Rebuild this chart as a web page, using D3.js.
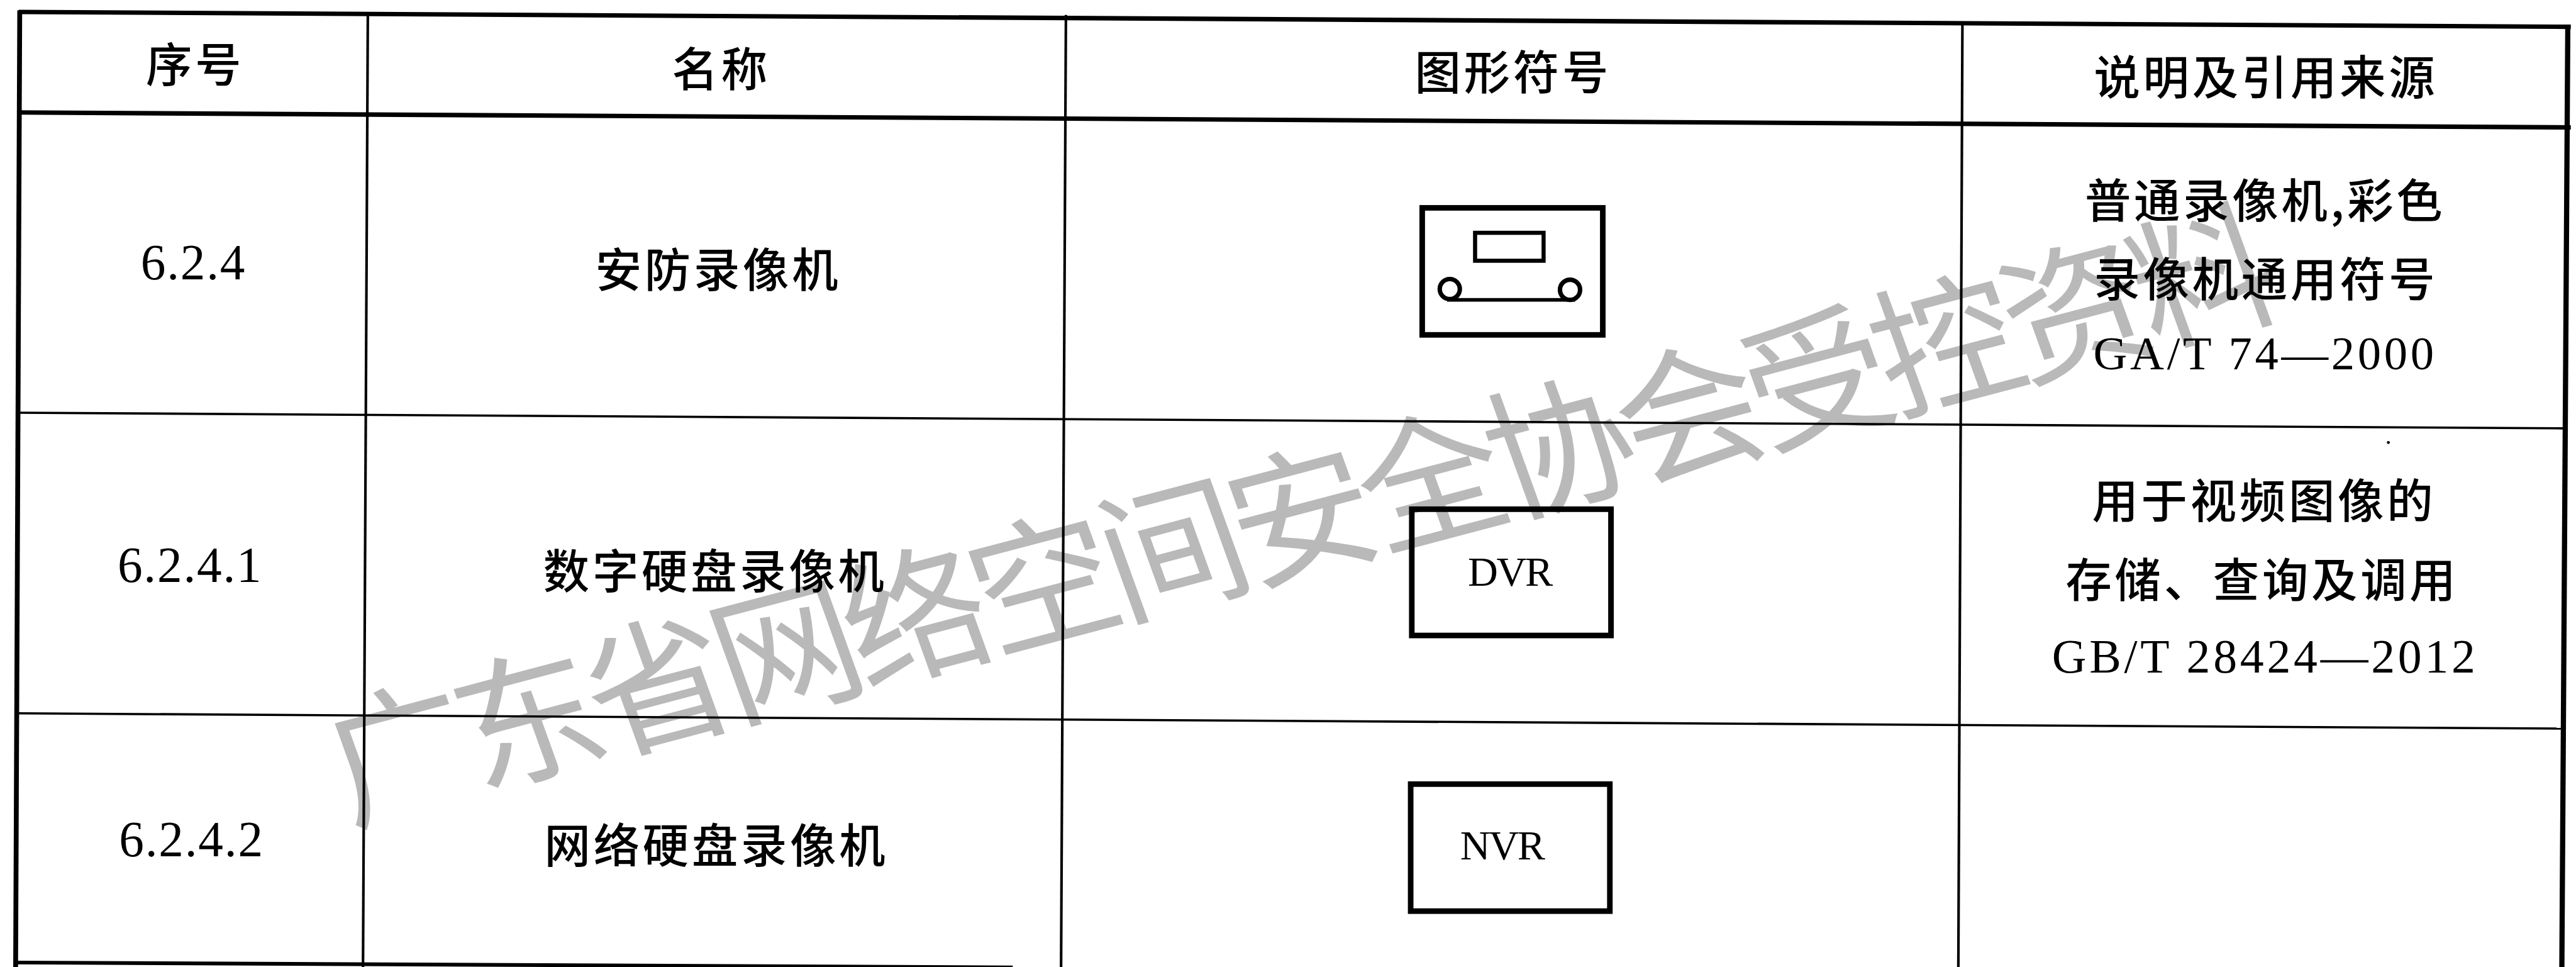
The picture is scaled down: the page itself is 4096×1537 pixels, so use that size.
<!DOCTYPE html>
<html>
<head>
<meta charset="utf-8">
<script src="https://cdnjs.cloudflare.com/ajax/libs/d3/7.8.5/d3.min.js"></script>
<style>
html, body { margin: 0; padding: 0; background: #fff; overflow: hidden; }
svg { display: block; }
</style>
</head>
<body>
<div id="chart"></div>
<script>
// TABLE CONTENT
let HEADERS = ["序号", "名称", "图形符号", "说明及引用来源"]
let CODES = ["6.2.4", "6.2.4.1", "6.2.4.2"]
let NAMES = ["安防录像机", "数字硬盘录像机", "网络硬盘录像机"]
let BOX_LABELS = ["DVR", "NVR"]
let NOTES = ["普通录像机,彩色", "录像机通用符号", "GA/T 74—2000", "用于视频图像的", "存储、查询及调用", "GB/T 28424—2012"]
let WATERMARK = "广东省网络空间安全协会受控资料"

// LAYOUT, in pixels of the full size scan
let FULL_W = 6919, FULL_H = 2596
let H_LINES = [
    [50, 32, 6905, 72, 12], [50, 302, 6905, 342, 12], [50, 1108, 6884, 1150, 6],
    [50, 1915, 6884, 1956, 6], [40, 2584, 2720, 2597, 10]
]
let V_LINES = [
    [53, 28, 42, 2596, 13], [988, 35, 975, 2596, 7], [2863, 40, 2850, 2596, 7],
    [5271, 60, 5260, 2596, 7], [6897, 68, 6881, 2596, 14]
]
let HEADER_POS = [[520, 165], [1933, 178], [4060, 185], [6082, 200]]
let CODE_POS = [[518, 750], [509, 1563], [513, 2298]]
let NAME_POS = [[1925, 716], [1917, 1525], [1920, 2261]]
let NOTE_POS = [[6080, 530], [6082, 742], [6080, 992], [6077, 1336], [6072, 1548], [6080, 1806]]
let BOX_POS = [[3792, 1367, 4327, 1706, 4057, 1572], [3789, 2105, 4324, 2446, 4036, 2307]]

let width = 4096, height = 1537

// same scale both ways, the window keeps the proportions of the scan
let x = d3.scaleLinear().domain([0, FULL_W]).range([0, width])
let y = d3.scaleLinear().domain([0, FULL_H]).range([0, height])
let k = width / FULL_W

let svg = d3.select("#chart")
    .append("svg")
    .attr("width", width)
    .attr("height", height)

svg.append("rect").attr("width", width).attr("height", height).attr("fill", "#fff")

let CJK = "'Noto Sans CJK SC', sans-serif"
let SERIF = "'Liberation Serif', serif"

// watermark goes under everything else, its uprights lean a bit more than its bars
svg.append("text")
    .attr("transform", "translate(" + x(3475) + "," + y(1362) + ") rotate(-14.8) skewX(5)")
    .attr("text-anchor", "middle")
    .attr("dominant-baseline", "central")
    .style("font-family", CJK)
    .style("font-size", (385 * k) + "px")
    .style("letter-spacing", (-27 * k) + "px")
    .style("fill", "#b9b9b9")
    .text(WATERMARK)

let line = d3.line()
    .x(function (d) { return x(d[0]) })
    .y(function (d) { return y(d[1]) })

svg.selectAll("rule")
    .data(H_LINES.concat(V_LINES))
    .enter()
    .append("path")
    .attr("d", function (d) { return line([[d[0], d[1]], [d[2], d[3]]]) })
    .attr("stroke", "#000")
    .attr("stroke-width", function (d) { return d[4] * k })
    .attr("fill", "none")

function addCjk(texts, positions, size, spacing) {
    svg.selectAll("cjk")
        .data(texts)
        .enter()
        .append("text")
        .attr("x", function (d, i) { return x(positions[i][0] + spacing / 2) })
        .attr("y", function (d, i) { return y(positions[i][1]) })
        .attr("text-anchor", "middle")
        .attr("dominant-baseline", "central")
        .style("font-family", CJK)
        .style("font-weight", 500)
        .style("font-size", (size * k) + "px")
        .style("letter-spacing", (spacing * k) + "px")
        .style("fill", "#000")
        .text(function (d) { return d })
}

function addSerif(texts, positions, size, spacing) {
    svg.selectAll("serif")
        .data(texts)
        .enter()
        .append("text")
        .attr("x", function (d, i) { return x(positions[i][0] + spacing / 2) })
        .attr("y", function (d, i) { return y(positions[i][1]) })
        .attr("text-anchor", "middle")
        .style("font-family", SERIF)
        .style("font-size", (size * k) + "px")
        .style("letter-spacing", (spacing * k) + "px")
        .style("fill", "#000")
        .text(function (d) { return d })
}

addCjk(HEADERS, HEADER_POS, 124, 8)
addCjk(NAMES, NAME_POS, 124, 8)
addSerif(CODES, CODE_POS, 134, 3)
addCjk(NOTES.slice(0, 2), NOTE_POS.slice(0, 2), 124, 8)
addSerif(NOTES.slice(2, 3), NOTE_POS.slice(2, 3), 126, 8)
addCjk(NOTES.slice(3, 5), NOTE_POS.slice(3, 5), 124, 8)
addSerif(NOTES.slice(5), NOTE_POS.slice(5), 128, 8)

// recorder symbol of the first row
let recorder = svg.append("g")
    .attr("fill", "none")
    .attr("stroke", "#000")

recorder.append("rect")
    .attr("x", x(3820)).attr("y", y(558))
    .attr("width", x(4305) - x(3820)).attr("height", y(899) - y(558))
    .attr("stroke-width", 15 * k)
recorder.append("rect")
    .attr("x", x(3962)).attr("y", y(625))
    .attr("width", x(4146) - x(3962)).attr("height", y(700) - y(625))
    .attr("stroke-width", 11 * k)
recorder.selectAll("circle")
    .data([[3894, 776], [4217, 778]])
    .enter()
    .append("circle")
    .attr("cx", function (d) { return x(d[0]) })
    .attr("cy", function (d) { return y(d[1]) })
    .attr("r", 27 * k)
    .attr("stroke-width", 12 * k)
recorder.append("path")
    .attr("d", line([[3887, 805], [4231, 805]]))
    .attr("stroke-width", 10 * k)

// DVR and NVR boxes
svg.selectAll("box")
    .data(BOX_POS)
    .enter()
    .append("rect")
    .attr("x", function (d) { return x(d[0]) })
    .attr("y", function (d) { return y(d[1]) })
    .attr("width", function (d) { return x(d[2]) - x(d[0]) })
    .attr("height", function (d) { return y(d[3]) - y(d[1]) })
    .attr("fill", "none")
    .attr("stroke", "#000")
    .attr("stroke-width", 15 * k)

addSerif(BOX_LABELS, BOX_POS.map(function (d) { return [d[4], d[5]] }), 112, -4)

// speck of dirt in the last column
svg.append("circle")
    .attr("cx", x(6415)).attr("cy", y(1188))
    .attr("r", 4 * k)
    .attr("fill", "#000")
</script>
</body>
</html>
